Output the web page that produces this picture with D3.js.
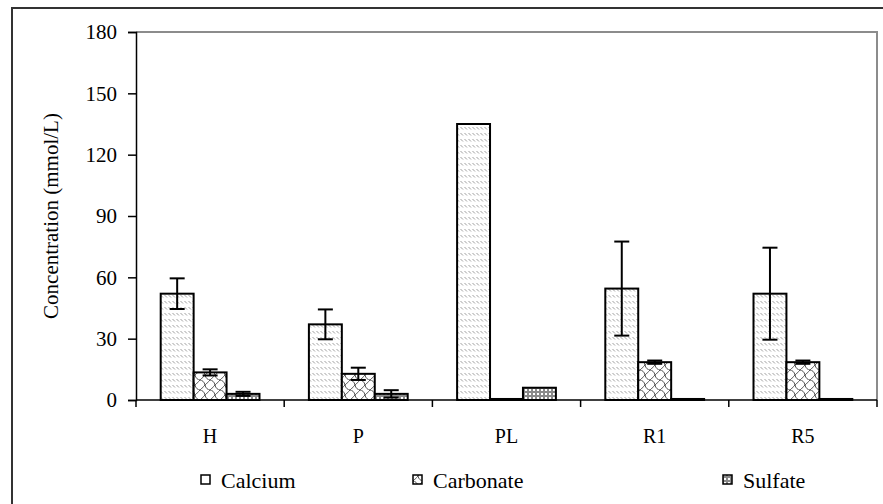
<!DOCTYPE html>
<html>
<head>
<meta charset="utf-8">
<script src="https://cdn.jsdelivr.net/npm/d3@7"></script>
<style>
  body { margin: 0; background: #fff; }
  svg { display: block; }
  text { font-family: "Liberation Serif", "Times New Roman", "DejaVu Serif", serif; }
</style>
</head>
<body>
<script>
// chart data
var categories = ["H", "P", "PL", "R1", "R5"];
var seriesNames = ["Calcium", "Carbonate", "Sulfate"];
var calcium = [52, 37, 135, 54.5, 52];
var calciumErr = [7.5, 7.3, 0, 23, 22.5];
var carbonate = [13.5, 12.8, 0.5, 18.5, 18.5];
var carbonateErr = [1.5, 3, 0, 0.8, 0.8];
var sulfate = [3, 3, 6, 0.5, 0.5];
var sulfateErr = [1, 1.8, 0, 0, 0];
var yTicks = [0, 30, 60, 90, 120, 150, 180];

var width = 883, height = 504;
var plotLeft = 136, plotRight = 877, plotTop = 32, plotBottom = 400;
var serif = "Liberation Serif";

var svg = d3.select("body").append("svg")
    .attr("width", width)
    .attr("height", height);

// fill patterns
var defs = svg.append("defs");

var pCa = defs.append("pattern")
    .attr("id", "pat-calcium")
    .attr("patternUnits", "userSpaceOnUse")
    .attr("width", 4).attr("height", 6);
pCa.append("rect").attr("width", 4).attr("height", 6).attr("fill", "#fff");
pCa.append("line").attr("x1", 0.5).attr("y1", 1).attr("x2", 3).attr("y2", 3.5)
    .attr("stroke", "#a0a0a0").attr("stroke-width", 1);

// shingle-like carbonate fill
var pCo = defs.append("pattern")
    .attr("id", "pat-carbonate")
    .attr("patternUnits", "userSpaceOnUse")
    .attr("width", 10).attr("height", 10);
pCo.append("rect").attr("width", 10).attr("height", 10).attr("fill", "#fff");
pCo.append("path")
    .attr("d", "M0,0 C2,0 4.5,2 5,5 C5.5,8 8,10 10,10 M5,5 C6.5,4 8,2 10,0 M0,10 C1.5,9 3,7 5,5")
    .attr("fill", "none").attr("stroke", "#555").attr("stroke-width", 1);

var pSu = defs.append("pattern")
    .attr("id", "pat-sulfate")
    .attr("patternUnits", "userSpaceOnUse")
    .attr("width", 4).attr("height", 4);
pSu.append("rect").attr("width", 4).attr("height", 4).attr("fill", "#8a8a8a");
pSu.append("rect").attr("x", 1).attr("y", 1).attr("width", 2).attr("height", 2).attr("fill", "#fff");

var fills = ["url(#pat-calcium)", "url(#pat-carbonate)", "url(#pat-sulfate)"];

// outer chart frame (cut off at right and bottom)
svg.append("path")
    .attr("d", "M12," + (height + 2) + " L12,8 L" + (width + 2) + ",8")
    .attr("fill", "none").attr("stroke", "#333").attr("stroke-width", 2);

// scales
var x = d3.scaleBand()
    .domain(categories)
    .range([plotLeft, plotRight]);

var bw = x.bandwidth() / 4.5;
var xSub = d3.scaleBand()
    .domain(seriesNames)
    .range([0, bw * 3]);
var offset = (x.bandwidth() - bw * 3) / 2;

var y = d3.scaleLinear()
    .domain([0, 180])
    .range([plotBottom, plotTop]);

// plot area border (top and right, grey)
svg.append("path")
    .attr("d", "M" + plotLeft + "," + plotTop + " L" + plotRight + "," + plotTop + " L" + plotRight + "," + plotBottom)
    .attr("fill", "none").attr("stroke", "#8c8c8c").attr("stroke-width", 2);

// y axis
var yAxis = svg.append("g")
    .attr("transform", "translate(" + plotLeft + ",0)")
    .call(d3.axisLeft(y).tickValues(yTicks).tickSize(8).tickPadding(11));
yAxis.attr("font-family", serif).attr("font-size", 21);
yAxis.select(".domain").attr("stroke", "#000").attr("stroke-width", 1.5);
yAxis.selectAll(".tick line").attr("stroke", "#000").attr("stroke-width", 1.5);
yAxis.selectAll("text").attr("fill", "#000");

// x axis line and ticks at category boundaries
svg.append("line")
    .attr("x1", plotLeft).attr("x2", plotRight)
    .attr("y1", y(0)).attr("y2", y(0))
    .attr("stroke", "#000").attr("stroke-width", 1.5);

var bounds = categories.map(function(c){ return x(c); }).concat([plotRight]);
svg.selectAll(".xtick")
    .data(bounds)
    .enter()
    .append("line")
    .attr("class", "xtick")
    .attr("x1", function(d){ return d; })
    .attr("x2", function(d){ return d; })
    .attr("y1", y(0)).attr("y2", y(0) + 7)
    .attr("stroke", "#000").attr("stroke-width", 1.5);

svg.selectAll(".xlabel")
    .data(categories)
    .enter()
    .append("text")
    .attr("class", "xlabel")
    .attr("x", function(d){ return x(d) + x.bandwidth() / 2; })
    .attr("y", 443)
    .attr("text-anchor", "middle")
    .attr("font-family", serif)
    .attr("font-size", 20)
    .text(function(d){ return d; });

// y title
svg.append("text")
    .attr("transform", "translate(58," + ((plotTop + plotBottom) / 2) + ") rotate(-90)")
    .attr("text-anchor", "middle")
    .attr("font-family", serif)
    .attr("font-size", 21)
    .text("Concentration (mmol/L)");

// bars
var values = [calcium, carbonate, sulfate];
var errors = [calciumErr, carbonateErr, sulfateErr];

var rows = [];
seriesNames.forEach(function(s, si){
    categories.forEach(function(c, ci){
        rows.push({ series: s, si: si, cat: c, value: values[si][ci], err: errors[si][ci] });
    });
});

svg.selectAll(".bar")
    .data(rows)
    .enter()
    .append("rect")
    .attr("class", "bar")
    .attr("x", function(d){ return x(d.cat) + offset + xSub(d.series); })
    .attr("width", xSub.bandwidth())
    .attr("y", function(d){ return y(d.value); })
    .attr("height", function(d){ return y(0) - y(d.value); })
    .attr("fill", function(d){ return fills[d.si]; })
    .attr("stroke", "#000")
    .attr("stroke-width", 2);

// error bars
var errRows = rows.filter(function(d){ return d.err > 0; });
var eb = svg.selectAll(".err")
    .data(errRows)
    .enter()
    .append("g")
    .attr("class", "err")
    .attr("transform", function(d){
        return "translate(" + (x(d.cat) + offset + xSub(d.series) + xSub.bandwidth() / 2) + ",0)";
    })
    .attr("stroke", "#000")
    .attr("stroke-width", 2);
eb.append("line")
    .attr("y1", function(d){ return y(d.value + d.err); })
    .attr("y2", function(d){ return y(d.value - d.err); });
eb.append("line")
    .attr("x1", -7.5).attr("x2", 7.5)
    .attr("y1", function(d){ return y(d.value + d.err); })
    .attr("y2", function(d){ return y(d.value + d.err); });
eb.append("line")
    .attr("x1", -7.5).attr("x2", 7.5)
    .attr("y1", function(d){ return y(d.value - d.err); })
    .attr("y2", function(d){ return y(d.value - d.err); });

// legend
var legendX = [201, 413, 723];
var legendSwatch = ["#fff", "url(#pat-carbonate)", "url(#pat-sulfate)"];
var legend = svg.selectAll(".legend")
    .data(seriesNames)
    .enter()
    .append("g")
    .attr("class", "legend")
    .attr("transform", function(d, i){ return "translate(" + legendX[i] + ",481)"; });
legend.append("rect")
    .attr("x", 0).attr("y", -6)
    .attr("width", 9).attr("height", 9)
    .attr("fill", function(d, i){ return legendSwatch[i]; })
    .attr("stroke", "#000")
    .attr("stroke-width", 1.5);
legend.append("text")
    .attr("x", 20)
    .attr("y", 7)
    .attr("font-family", serif)
    .attr("font-size", 22)
    .text(function(d){ return d; });
</script>
</body>
</html>
